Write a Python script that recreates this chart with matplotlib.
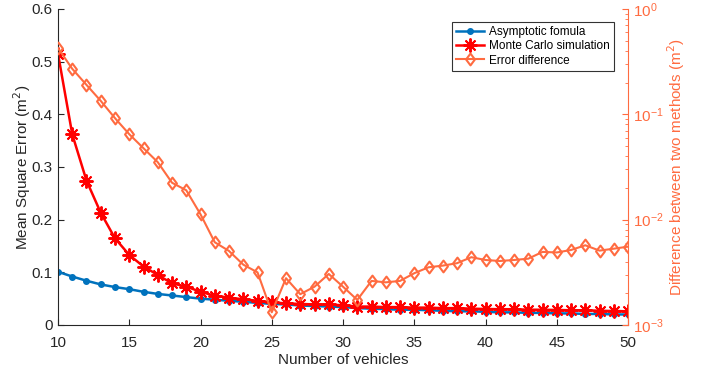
import matplotlib
matplotlib.use("Agg")
import matplotlib.pyplot as plt
from matplotlib.ticker import LogLocator, NullFormatter
from matplotlib.path import Path

plt.rcParams['font.family'] = ['Liberation Sans', 'DejaVu Sans']

vehicles = list(range(10, 51))
asymptotic = [0.101, 0.092, 0.084, 0.077, 0.072, 0.068, 0.063, 0.059, 0.056, 0.053,
              0.050, 0.048, 0.046, 0.044, 0.042, 0.040, 0.039, 0.037, 0.036, 0.035,
              0.034, 0.032, 0.031, 0.030, 0.029, 0.029, 0.028, 0.027, 0.026, 0.026,
              0.025, 0.024, 0.024, 0.023, 0.023, 0.022, 0.022, 0.021, 0.021, 0.020, 0.020]
monte_carlo = [0.515, 0.362, 0.274, 0.213, 0.1645, 0.133, 0.111, 0.095, 0.079, 0.073,
               0.063, 0.0556, 0.052, 0.0488, 0.046, 0.043, 0.041, 0.040, 0.039, 0.039,
               0.0374, 0.035, 0.035, 0.034, 0.034, 0.033, 0.033, 0.032, 0.032, 0.031,
               0.0304, 0.030, 0.030, 0.029, 0.029, 0.0285, 0.028, 0.028, 0.027, 0.0266, 0.026]
error_diff = [0.425, 0.270, 0.190, 0.134, 0.0918, 0.0647, 0.0476, 0.0351, 0.0224, 0.0190,
              0.01124, 0.0061, 0.00504, 0.00374, 0.00316, 0.00132, 0.00278, 0.00196, 0.00231, 0.00305,
              0.00231, 0.00173, 0.00262, 0.00254, 0.00262, 0.00310, 0.00353, 0.00366, 0.00386, 0.00440,
              0.00414, 0.00405, 0.00414, 0.00426, 0.00494, 0.00488, 0.00515, 0.00571, 0.00508, 0.00530, 0.00554]

blue = (0.0, 0.447, 0.741)
red = (1.0, 0.0, 0.0)
orange = (1.0, 0.42, 0.25)
dark = (0.15, 0.15, 0.15)

diamond = Path([(0, 1), (0.75, 0), (0, -1), (-0.75, 0), (0, 1)],
               [Path.MOVETO, Path.LINETO, Path.LINETO, Path.LINETO, Path.CLOSEPOLY])

fig = plt.figure(figsize=(7.09, 3.71), dpi=100)
ax = fig.add_axes([0.0818, 0.124, 0.804, 0.852])
ax2 = ax.twinx()

l1, = ax.plot(vehicles, asymptotic, '-', marker='o', color=blue, lw=1.8, ms=4,
              label='Asymptotic fomula')
l2, = ax.plot(vehicles, monte_carlo, '-', marker=(8, 2, 0), color=red, lw=1.8, ms=10, mew=1.4,
              label='Monte Carlo simulation')
l3, = ax2.plot(vehicles, error_diff, '-', marker=diamond, color=orange, lw=1.5, ms=8.5, mfc='none', mew=1.5,
               label='Error difference')

ax.set_xlim(10, 50)
ax.set_ylim(0, 0.6)
ax.set_xticks([10, 15, 20, 25, 30, 35, 40, 45, 50])
ax.set_yticks([0, 0.1, 0.2, 0.3, 0.4, 0.5, 0.6])
ax.set_yticklabels(['0', '0.1', '0.2', '0.3', '0.4', '0.5', '0.6'])
ax.set_xlabel('Number of vehicles', fontsize=11, color=dark, labelpad=2)
ax.set_ylabel('Mean Square Error (m$^2$)', fontsize=11, color=dark, labelpad=-1)
ax.tick_params(direction='in', labelsize=11, colors=dark, length=4)
ax.tick_params(axis='x', pad=8)
ax.tick_params(axis='y', pad=4)
for s in ['top', 'right']:
    ax.spines[s].set_visible(False)
for s in ['left', 'bottom']:
    ax.spines[s].set_color(dark)

ax2.set_yscale('log')
ax2.set_ylim(1e-3, 1)
ax2.yaxis.set_major_locator(LogLocator(base=10, numticks=10))
ax2.yaxis.set_minor_locator(LogLocator(base=10, subs=range(2, 10), numticks=20))
ax2.yaxis.set_minor_formatter(NullFormatter())
ax2.tick_params(axis='y', which='both', direction='in', colors=orange, labelsize=11)
ax2.tick_params(axis='y', which='major', length=4)
ax2.tick_params(axis='y', which='minor', length=2)
ax2.set_ylabel('Difference between two methods (m$^2$)', fontsize=11, color=orange, labelpad=1)
for s in ['top', 'left', 'bottom']:
    ax2.spines[s].set_visible(False)
ax2.spines['right'].set_color(orange)

leg = ax.legend(handles=[l1, l2, l3], loc='upper right', bbox_to_anchor=(0.985, 0.978),
                fontsize=8.5, frameon=True, fancybox=False, edgecolor='black',
                handlelength=2.4, borderpad=0.35, labelspacing=0.2, handletextpad=0.4)
leg.get_frame().set_linewidth(0.8)

fig.savefig('out.png', dpi=100)
